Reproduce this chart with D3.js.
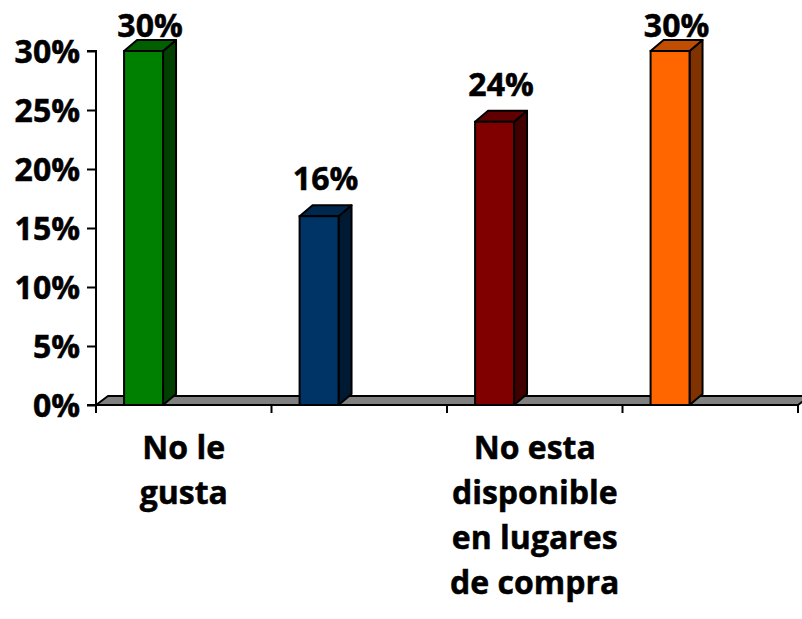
<!DOCTYPE html>
<html>
<head>
<meta charset="utf-8">
<script src="https://cdn.jsdelivr.net/npm/d3@7"></script>
<style>
  html, body { margin: 0; padding: 0; background: #fff; }
  svg { display: block; }
  text { font-family: "Open Sans", "DejaVu Sans", sans-serif; font-weight: 700; fill: #000; stroke: #000; stroke-width: 0.5px; }
</style>
</head>
<body>
<svg id="chart" width="802" height="619"></svg>
<script>
// ---- data ----
const categoryIds = ["c1", "c2", "c3", "c4"];
const categoryLines = [["No le", "gusta"], [], ["No esta", "disponible", "en lugares", "de compra"], []];
const values = [30, 16, 24, 30];
const frontColors = ["#008000", "#003366", "#800000", "#ff6600"];
const sideColors = ["#004000", "#001a33", "#400000", "#803300"];
const topColors = ["#006000", "#00284f", "#600000", "#c04d00"];
const yTicks = [0, 5, 10, 15, 20, 25, 30];

// ---- layout ----
const svg = d3.select("#chart");
const x0 = 96, x1 = 798, yBase = 405, yTop = 51;
const dx = 13, dy = -11;      // bar depth
const fdx = 12, fdy = -9;     // floor depth

const x = d3.scaleBand().domain(categoryIds).range([x0, x1]).paddingInner(0).paddingOuter(0);
const y = d3.scaleLinear().domain([0, 30]).range([yBase, yTop]);

// floor
svg.append("path")
  .attr("d", `M${x0},${yBase} L${x0 + fdx},${yBase + fdy} L${x1 + fdx},${yBase + fdy} L${x1},${yBase} Z`)
  .attr("fill", "#808080").attr("stroke", "#000").attr("stroke-width", 2).attr("stroke-linejoin", "round");

// y axis
const yAxis = d3.axisLeft(y).tickValues(yTicks).tickFormat(d => d + "%").tickSize(9).tickPadding(7);
const gy = svg.append("g").attr("transform", `translate(${x0},0)`).call(yAxis);
gy.select(".domain").attr("stroke", "#000").attr("stroke-width", 2).attr("d", `M-9,${yTop}H0V${yBase}H-9`);
gy.selectAll(".tick line").attr("stroke", "#000").attr("stroke-width", 2);
gy.selectAll(".tick text").attr("font-size", 32).attr("font-family", null).attr("dy", "0.36em");

// x axis ticks (at band boundaries)
const bw = x.bandwidth();
const boundaries = categoryIds.map(c => x(c)).concat([x1]);
svg.append("line").attr("x1", x0).attr("x2", x1).attr("y1", yBase).attr("y2", yBase)
  .attr("stroke", "#000").attr("stroke-width", 2);
svg.selectAll(".xtick").data(boundaries).enter().append("line")
  .attr("x1", d => d).attr("x2", d => d).attr("y1", yBase).attr("y2", yBase + 8)
  .attr("stroke", "#000").attr("stroke-width", 2);

// bars
const barW = bw * 0.222;
const bars = svg.selectAll(".bar").data(values).enter().append("g").attr("class", "bar");
bars.each(function(v, i) {
  const g = d3.select(this);
  const bx = x(categoryIds[i]) + bw * 0.16;
  const by = y(v);
  g.append("path")
    .attr("d", `M${bx + barW},${yBase} L${bx + barW + dx},${yBase + dy} L${bx + barW + dx},${by + dy} L${bx + barW},${by} Z`)
    .attr("fill", sideColors[i]).attr("stroke", "#000").attr("stroke-width", 2).attr("stroke-linejoin", "round");
  g.append("path")
    .attr("d", `M${bx},${by} L${bx + dx},${by + dy} L${bx + barW + dx},${by + dy} L${bx + barW},${by} Z`)
    .attr("fill", topColors[i]).attr("stroke", "#000").attr("stroke-width", 2).attr("stroke-linejoin", "round");
  g.append("rect")
    .attr("x", bx).attr("y", by).attr("width", barW).attr("height", yBase - by)
    .attr("fill", frontColors[i]).attr("stroke", "#000").attr("stroke-width", 2);
  g.append("text")
    .attr("x", bx + barW / 2 + dx / 2)
    .attr("y", Math.max(by + dy - 15, 37))
    .attr("text-anchor", "middle").attr("font-size", 32)
    .text(v + "%");
});

// category labels
categoryLines.forEach((lines, i) => {
  const cx = x(categoryIds[i]) + bw / 2;
  const t = svg.append("text").attr("text-anchor", "middle").attr("font-size", 32);
  lines.forEach((ln, j) => {
    t.append("tspan").attr("x", cx).attr("y", 459 + j * 45).text(ln);
  });
});
</script>
</body>
</html>
